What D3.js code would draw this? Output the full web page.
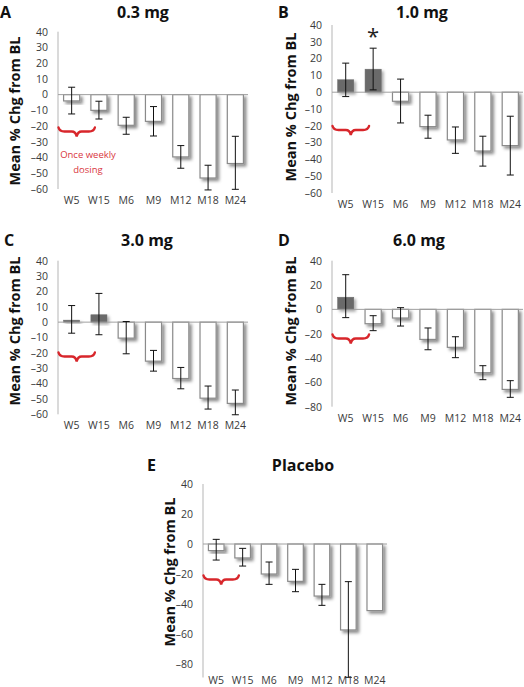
<!DOCTYPE html>
<html>
<head>
<meta charset="utf-8">
<script src="https://cdn.jsdelivr.net/npm/d3@7"></script>
<style>
  html, body { margin: 0; padding: 0; background: #fff; }
  svg { display: block; }
</style>
</head>
<body>
<script>
// ---- Data ----
const categories = ["W5", "W15", "M6", "M9", "M12", "M18", "M24"];

const panelLetters = ["A", "B", "C", "D", "E"];
const panelTitles = ["0.3 mg", "1.0 mg", "3.0 mg", "6.0 mg", "Placebo"];

// mean % change from baseline
const meanA = [-4, -10, -19.5, -17, -39.6, -53, -43.8];
const meanB = [7.4, 13.7, -5.4, -20.5, -28.4, -35, -31.8];
const meanC = [1.3, 4.8, -10.4, -25.4, -36.7, -49.5, -52.9];
const meanD = [10, -11.8, -7.1, -24.7, -31.2, -52.1, -65.8];
const meanE = [-4.4, -9.3, -20, -24.9, -34.7, -57.3, -44.4];

// error bar upper / lower ends
const hiA = [4.7, -4.2, -14.4, -7.6, -32.4, -44.9, -26.5];
const loA = [-12.3, -15.5, -25.2, -26.3, -46.8, -60.6, -60.2];
const hiB = [17.3, 26.2, 7.8, -13.7, -20.7, -26.2, -14.3];
const loB = [-2.6, 1.4, -18.3, -27.4, -36.4, -44, -49.3];
const hiC = [10.8, 18.7, 0.4, -18.4, -29.5, -41.6, -44.2];
const loC = [-7.2, -8.2, -20.6, -31.9, -43.4, -56.6, -60.3];
const hiD = [28.5, -5.2, 1.4, -15.3, -22.5, -46.3, -58.6];
const loD = [-6.8, -17.5, -13.7, -33.2, -39.7, -57.8, -72.3];
const hiE = [3.1, -2.9, -12, -16.9, -26.9, -25.1, null];
const loE = [-10.7, -14.7, -26.9, -31.8, -40.9, -88.9, null];

// which bars are drawn filled dark
const darkA = [false, false, false, false, false, false, false];
const darkB = [true, true, false, false, false, false, false];
const darkC = [true, true, false, false, false, false, false];
const darkD = [true, false, false, false, false, false, false];
const darkE = [false, false, false, false, false, false, false];

const ticksSmall = [40, 30, 20, 10, 0, -10, -20, -30, -40, -50, -60];
const ticksLarge = [40, 20, 0, -20, -40, -60, -80];

const yTitle = "Mean % Chg from BL";
const braceNote = ["Once weekly", "dosing"];

// ---- Layout (pixels) ----
const layouts = [
  { ax: 58,  x1: 249, yTop: 31.7,  yBot: 189,   dom: [-60, 40], ticks: ticksSmall, lineBot: -60,
    letter: [0, 18], title: [143, 18], ylab: [20, 111], brace: 127.5 },
  { ax: 332, x1: 524, yTop: 25,    yBot: 193,   dom: [-60, 40], ticks: ticksSmall, lineBot: -60,
    letter: [278, 18], title: [422, 18], ylab: [296, 107], brace: 126 },
  { ax: 58,  x1: 249, yTop: 260.7, yBot: 414.3, dom: [-60, 40], ticks: ticksSmall, lineBot: -60,
    letter: [4, 246], title: [147, 246], ylab: [20, 331], brace: 352.5 },
  { ax: 332, x1: 524, yTop: 260.7, yBot: 406.7, dom: [-80, 40], ticks: ticksLarge, lineBot: -80,
    letter: [278, 246], title: [419, 246], ylab: [296, 331], brace: 334.5 },
  { ax: 203, x1: 388, yTop: 484,   yBot: 664,   dom: [-80, 40], ticks: ticksLarge, lineBot: -89,
    letter: [147, 471], title: [303, 471], ylab: [175, 572], brace: 575.5 }
];

const means = [meanA, meanB, meanC, meanD, meanE];
const his = [hiA, hiB, hiC, hiD, hiE];
const los = [loA, loB, loC, loD, loE];
const darks = [darkA, darkB, darkC, darkD, darkE];

const W = 524, H = 687;
const svg = d3.select("body").append("svg").attr("width", W).attr("height", H);

const defs = svg.append("defs");
const f = defs.append("filter").attr("id", "shadow")
  .attr("x", "-30%").attr("y", "-30%").attr("width", "180%").attr("height", "180%");
f.append("feDropShadow").attr("dx", 2.5).attr("dy", 2.5).attr("stdDeviation", 1.6)
  .attr("flood-color", "#000").attr("flood-opacity", 0.45);
const fd = defs.append("filter").attr("id", "soft")
  .attr("x", "-30%").attr("y", "-30%").attr("width", "180%").attr("height", "180%");
fd.append("feGaussianBlur").attr("in", "SourceGraphic").attr("stdDeviation", 0.6).attr("result", "b");
fd.append("feDropShadow").attr("in", "b").attr("dx", 2).attr("dy", 2).attr("stdDeviation", 1.5)
  .attr("flood-color", "#000").attr("flood-opacity", 0.35);

const FONT = "'Open Sans', 'DejaVu Sans', sans-serif";

layouts.forEach((L, i) => {
  const g = svg.append("g");
  const y = d3.scaleLinear().domain([L.dom[0], L.dom[1]]).range([L.yBot, L.yTop]);
  const x = d3.scaleBand().domain(categories).range([L.ax, L.x1])
    .paddingInner(0.41).paddingOuter(0.205);

  // y axis (labels only)
  const yAxis = d3.axisLeft(y).tickValues(L.ticks).tickSize(0).tickPadding(10)
    .tickFormat(d => d < 0 ? "\u2013" + Math.abs(d) : d);
  const ga = g.append("g").attr("transform", `translate(${L.ax},0)`).call(yAxis);
  ga.select(".domain").remove();
  ga.selectAll("text").attr("font-family", FONT).attr("font-size", 10.5).attr("fill", "#3a3a3a");

  // vertical axis line
  g.append("line").attr("x1", L.ax).attr("x2", L.ax)
    .attr("y1", y(L.dom[1])).attr("y2", y(L.lineBot))
    .attr("stroke", "#b5b5b5").attr("stroke-width", 1);

  // bars
  const data = categories.map((c, k) => ({ c, v: means[i][k], hi: his[i][k], lo: los[i][k], dark: darks[i][k] }));
  g.selectAll("rect.bar").data(data).enter().append("rect")
    .attr("class", "bar")
    .attr("x", d => x(d.c))
    .attr("width", x.bandwidth())
    .attr("y", d => y(Math.max(0, d.v)))
    .attr("height", d => Math.abs(y(d.v) - y(0)))
    .attr("fill", d => d.dark ? "#6b6b6b" : "#ffffff")
    .attr("stroke", d => d.dark ? "#6b6b6b" : "#8a8a8a")
    .attr("stroke-width", d => d.dark ? 0.5 : 1.2)
    .attr("filter", d => d.dark ? "url(#soft)" : "url(#shadow)");

  // zero line
  g.append("line").attr("x1", L.ax).attr("x2", L.x1 - 1)
    .attr("y1", y(0)).attr("y2", y(0))
    .attr("stroke", "#a0a0a0").attr("stroke-width", 1);

  // error bars
  const eb = g.selectAll("g.err").data(data.filter(d => d.hi !== null)).enter().append("g");
  const cx = d => x(d.c) + x.bandwidth() / 2;
  eb.append("line").attr("x1", cx).attr("x2", cx)
    .attr("y1", d => y(d.hi)).attr("y2", d => y(d.lo))
    .attr("stroke", "#111").attr("stroke-width", 1);
  eb.append("line").attr("x1", d => cx(d) - 3.5).attr("x2", d => cx(d) + 3.5)
    .attr("y1", d => y(d.hi)).attr("y2", d => y(d.hi))
    .attr("stroke", "#111").attr("stroke-width", 1);
  eb.append("line").attr("x1", d => cx(d) - 3.5).attr("x2", d => cx(d) + 3.5)
    .attr("y1", d => y(d.lo)).attr("y2", d => y(d.lo))
    .attr("stroke", "#111").attr("stroke-width", 1);

  // x labels
  g.selectAll("text.xl").data(categories).enter().append("text")
    .attr("x", c => x(c) + x.bandwidth() / 2)
    .attr("y", L.yBot + (i === 4 ? 20 : 15))
    .attr("text-anchor", "middle")
    .attr("font-family", FONT).attr("font-size", 10.5).attr("fill", "#3a3a3a")
    .text(c => c);

  // panel letter
  g.append("text").attr("x", L.letter[0]).attr("y", L.letter[1])
    .attr("font-family", FONT).attr("font-weight", 700).attr("font-size", 16).attr("fill", "#111")
    .text(panelLetters[i]);
  // title
  g.append("text").attr("x", L.title[0]).attr("y", L.title[1])
    .attr("text-anchor", "middle")
    .attr("font-family", FONT).attr("font-weight", 700).attr("font-size", 16).attr("fill", "#111")
    .text(panelTitles[i]);
  // y title
  g.append("text")
    .attr("transform", `translate(${L.ylab[0]},${L.ylab[1]}) rotate(-90)`)
    .attr("text-anchor", "middle")
    .attr("font-family", FONT).attr("font-weight", 700).attr("font-size", 14.5).attr("fill", "#111")
    .text(yTitle);

  // red brace
  const bx0 = L.ax + 0.5, bx1 = x(categories[0]) + x.step() + 4, by = L.brace;
  const mid = (bx0 + bx1) / 2;
  const p = d3.path();
  p.moveTo(bx0, by);
  p.quadraticCurveTo(bx0 + 1, by + 4, bx0 + 6, by + 4);
  p.lineTo(mid - 5, by + 4);
  p.quadraticCurveTo(mid - 1, by + 4, mid, by + 9);
  p.quadraticCurveTo(mid + 1, by + 4, mid + 5, by + 4);
  p.lineTo(bx1 - 6, by + 4);
  p.quadraticCurveTo(bx1 - 1, by + 4, bx1, by);
  g.append("path").attr("d", p.toString()).attr("fill", "none")
    .attr("stroke", "#d8262b").attr("stroke-width", 2.4).attr("stroke-linecap", "round");

  if (i === 0) {
    braceNote.forEach((t, k) => {
      g.append("text").attr("x", 88).attr("y", 158 + k * 15)
        .attr("text-anchor", "middle")
        .attr("font-family", FONT).attr("font-size", 9.5).attr("fill", "#d9363e")
        .text(t);
    });
  }
  if (i === 1) {
    g.append("text").attr("x", x("W15") + x.bandwidth() / 2).attr("y", 44)
      .attr("text-anchor", "middle")
      .attr("font-family", FONT).attr("font-size", 22).attr("fill", "#222")
      .text("*");
  }
});
</script>
</body>
</html>
